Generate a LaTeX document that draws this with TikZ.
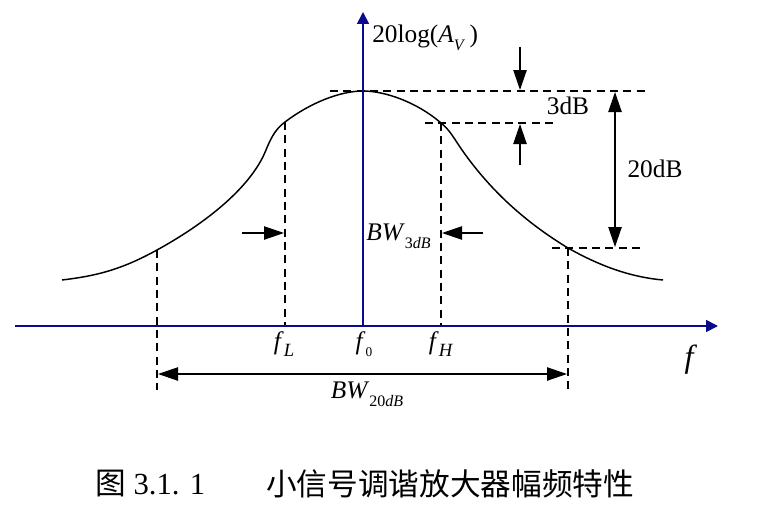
\documentclass[tikz,border=0pt]{standalone}
\usepackage{fontspec}
\setmainfont{Liberation Serif}
\newfontfamily\cjk{Noto Sans CJK SC}
\usetikzlibrary{arrows.meta}
\definecolor{axisblue}{RGB}{10,10,140}
\newcommand{\lsub}[2]{\raisebox{-0.3em}{\fontsize{#1}{#1}\selectfont #2}}
\tikzset{
  axisline/.style={draw=axisblue,line width=1.3pt,-{Triangle[length=9pt,width=9pt]}},
  curveline/.style={draw=black,line width=1.1pt},
  guide/.style={draw=black,line width=0.9pt,dash pattern=on 6pt off 4pt},
  dimarrow/.style={draw=black,line width=1pt,-{Triangle[length=15pt,width=10pt]}},
  dimboth/.style={draw=black,line width=1pt,{Triangle[length=15pt,width=10pt]}-{Triangle[length=15pt,width=10pt]}},
  lbl/.style={inner sep=0pt,font=\fontsize{19}{22}\selectfont},
  captext/.style={inner sep=0pt,font=\fontsize{23}{26}\selectfont,anchor=west}
}
\begin{document}
\begin{tikzpicture}[x=0.75pt,y=-0.75pt]
\useasboundingbox (0,0) rectangle (766,517);
% key coordinates
\coordinate (xs) at (15,326);
\coordinate (xe) at (718,326);
\coordinate (ys) at (363,326);
\coordinate (ye) at (363,12);
\coordinate (cs) at (62,280);
\coordinate (ce) at (663,280);
\coordinate (pk) at (363,91);
\coordinate (fl) at (285,122);
\coordinate (fh) at (441,123);
\coordinate (l20) at (157,250);
\coordinate (r20) at (568,248);
\coordinate (flb) at (285,326);
\coordinate (fhb) at (441,326);
\coordinate (l20b) at (157,390);
\coordinate (r20b) at (568,390);
\coordinate (pkl) at (330,91);
\coordinate (pkr) at (648,91);
\coordinate (t3l) at (425,123);
\coordinate (t3r) at (553,123);
\coordinate (t20l) at (552,248);
\coordinate (t20r) at (642,248);
\coordinate (da0) at (520,47);
\coordinate (da1) at (520,90);
\coordinate (ua0) at (520,165);
\coordinate (ua1) at (520,124);
\coordinate (db0) at (615,92);
\coordinate (db1) at (615,247);
\coordinate (ra0) at (242,233);
\coordinate (ra1) at (284,233);
\coordinate (la0) at (483,233);
\coordinate (la1) at (442,233);
\coordinate (bw0) at (158,374);
\coordinate (bw1) at (567,374);
% guides
\draw[guide] (pkl) -- (pkr);
\draw[guide] (t3l) -- (t3r);
\draw[guide] (t20l) -- (t20r);
\draw[guide] (fl) -- (flb);
\draw[guide] (fh) -- (fhb);
\draw[guide] (l20) -- (l20b);
\draw[guide] (r20) -- (r20b);
% curve
\draw[curveline] (cs) .. controls (95,276) and (120,270.4) .. (l20)
  .. controls (200,226.4) and (250,190) .. (266,150)
  .. controls (272,135) and (277,128) .. (fl)
  .. controls (310,103) and (340,91) .. (pk)
  .. controls (386,91) and (418,103) .. (fh)
  .. controls (450,130) and (455,140) .. (462,150)
  .. controls (490,190) and (525,222) .. (r20)
  .. controls (600,266) and (630,277) .. (ce);
% axes
\draw[axisline] (xs) -- (xe);
\draw[axisline] (ys) -- (ye);
% dimension arrows
\draw[dimarrow] (da0) -- (da1);
\draw[dimarrow] (ua0) -- (ua1);
\draw[dimboth] (db0) -- (db1);
\draw[dimarrow] (ra0) -- (ra1);
\draw[dimarrow] (la0) -- (la1);
\draw[dimboth] (bw0) -- (bw1);
% labels
\node[lbl,anchor=west] (ylab) at (372,38) {20log(\textit{A}\lsub{12}{\textit{V}}\,)};
\node[lbl] (l3db) at (568,106) {3dB};
\node[lbl] (l20db) at (655,169) {20dB};
\node[lbl,anchor=west] (bw3) at (366,236) {\textit{BW}\lsub{12}{3\textit{dB}}};
\node[lbl] (bw20) at (367,394) {\textit{BW}\lsub{12}{20\textit{dB}}};
\node[lbl] (lfl) at (284,344) {\textit{f}\lsub{14}{\textit{L}}};
\node[lbl] (lf0) at (364,344) {\textit{f}\lsub{10}{0}};
\node[lbl] (lfh) at (441,344) {\textit{f}\lsub{14}{\textit{H}}};
\node[lbl,font=\fontsize{24}{26}\selectfont] (lf) at (691,360) {\textit{f}};
% caption
\node[captext] (c1) at (95,484) {{\cjk 图} 3.1. 1};
\node[captext] (c2) at (266,484) {\cjk 小信号调谐放大器幅频特性};
\end{tikzpicture}
\end{document}
